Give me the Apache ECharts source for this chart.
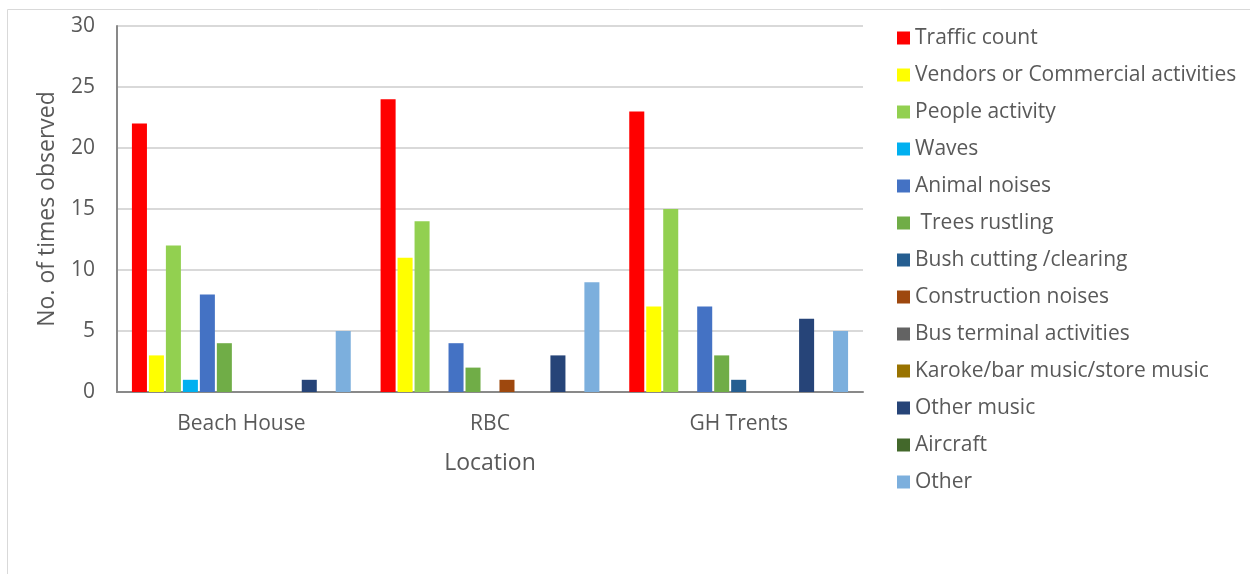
<!DOCTYPE html>
<html>
<head>
<meta charset="utf-8">
<script src="https://cdn.jsdelivr.net/npm/echarts@6/dist/echarts.min.js"></script>
<style>
  html, body { margin: 0; padding: 0; background: #fff; }
  #chart { width: 1250px; height: 574px; }
</style>
</head>
<body>
<div id="chart"></div>
<script>
// Locations along the x axis
const locations = ['Beach House', 'RBC', 'GH Trents'];

// Noise source categories (legend order)
const sources = [
  'Traffic count',
  'Vendors or Commercial activities',
  'People activity',
  'Waves',
  'Animal noises',
  ' Trees rustling',
  'Bush cutting /clearing',
  'Construction noises',
  'Bus terminal activities',
  'Karoke/bar music/store music',
  'Other music',
  'Aircraft',
  'Other'
];

// Observation counts per source, one value per location
const trafficCount      = [22, 24, 23];
const vendors           = [3, 11, 7];
const peopleActivity    = [12, 14, 15];
const waves             = [1, 0, 0];
const animalNoises      = [8, 4, 7];
const treesRustling     = [4, 2, 3];
const bushCutting       = [0, 0, 1];
const constructionNoise = [0, 1, 0];
const busTerminal       = [0, 0, 0];
const karokeMusic       = [0, 0, 0];
const otherMusic        = [1, 3, 6];
const aircraft          = [0, 0, 0];
const other             = [5, 9, 5];

const yTicks = [0, 5, 10, 15, 20, 25, 30];

const seriesValues = [
  trafficCount, vendors, peopleActivity, waves, animalNoises, treesRustling,
  bushCutting, constructionNoise, busTerminal, karokeMusic, otherMusic, aircraft, other
];

const colors = [
  '#FF0000', '#FFFF00', '#92D050', '#00B0F0', '#4472C4', '#70AD47',
  '#255E91', '#9E480E', '#636363', '#997300', '#264478', '#43682B', '#7CAFDD'
];

const textColor = '#595959';
const fontFamily = 'Open Sans, Noto Sans, sans-serif';

const chart = echarts.init(document.getElementById('chart'));

chart.setOption({
  animation: false,
  color: colors,
  textStyle: { fontFamily: fontFamily, color: textColor },
  graphic: [{
    type: 'rect',
    shape: { x: 7.5, y: 9.5, width: 1260, height: 600 },
    style: { fill: 'none', stroke: '#d9d9d9', lineWidth: 1 },
    silent: true
  }],
  grid: { left: 117, top: 26, right: 387, bottom: 182 },
  legend: {
    orient: 'vertical',
    left: 897,
    top: 27,
    padding: 0,
    icon: 'rect',
    itemWidth: 13,
    itemHeight: 13,
    itemGap: 15,
    itemTextGap: 8,
    data: sources,
    textStyle: { fontSize: 21, color: textColor, fontFamily: fontFamily, lineHeight: 22 }
  },
  xAxis: {
    type: 'category',
    data: locations,
    name: 'Location',
    nameLocation: 'middle',
    nameGap: 60,
    nameTextStyle: { fontSize: 23, color: textColor },
    axisLine: { lineStyle: { color: '#898989', width: 2 } },
    axisTick: { show: false },
    axisLabel: { fontSize: 21, color: textColor, margin: 22 }
  },
  yAxis: {
    type: 'value',
    min: yTicks[0],
    max: yTicks[yTicks.length - 1],
    interval: 5,
    name: 'No. of times observed',
    nameLocation: 'middle',
    nameGap: 58,
    nameTextStyle: { fontSize: 23, color: textColor },
    axisLine: { show: true, lineStyle: { color: '#898989', width: 2 } },
    axisTick: { show: false },
    axisLabel: { fontSize: 21, color: textColor, margin: 22 },
    splitLine: { lineStyle: { color: '#d9d9d9', width: 2 } }
  },
  series: sources.map((name, i) => ({
    name: name,
    type: 'bar',
    data: seriesValues[i],
    barGap: '13%',
    barCategoryGap: '12%',
    itemStyle: { color: colors[i] }
  }))
});
</script>
</body>
</html>
